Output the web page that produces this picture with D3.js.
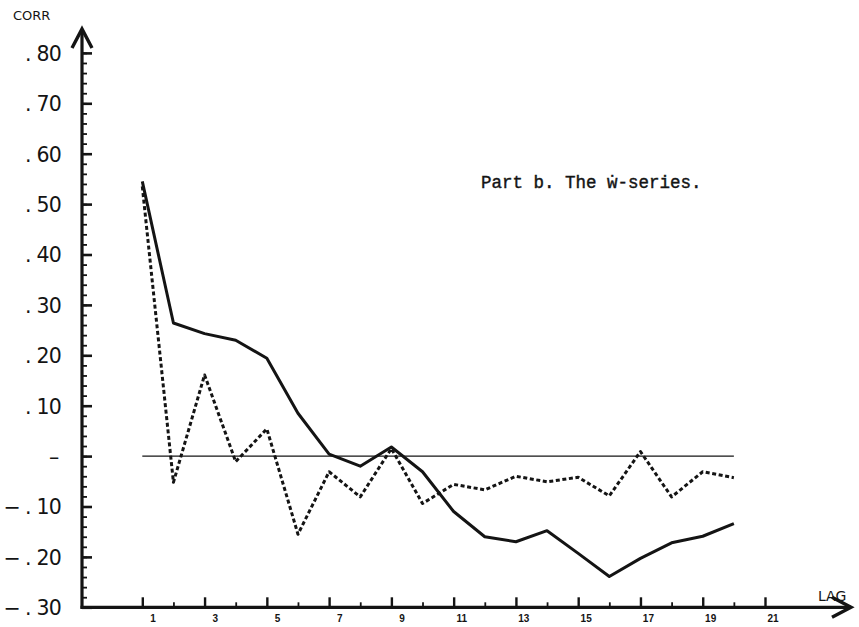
<!DOCTYPE html>
<html>
<head>
<meta charset="utf-8">
<script src="https://cdn.jsdelivr.net/npm/d3@7"></script>
<style>
  html, body { margin: 0; padding: 0; background: #fff; }
  svg { display: block; }
</style>
</head>
<body>
<svg id="chart" width="859" height="627"></svg>
<script>
// Autocorrelations by lag
const lags = [1, 2, 3, 4, 5, 6, 7, 8, 9, 10, 11, 12, 13, 14, 15, 16, 17, 18, 19, 20];
const acf = [0.545, 0.264, 0.243, 0.230, 0.194, 0.085, 0.004, -0.020, 0.018, -0.031,
             -0.110, -0.160, -0.170, -0.148, -0.193, -0.239, -0.203, -0.172, -0.159, -0.134];
const pacf = [0.535, -0.052, 0.161, -0.011, 0.054, -0.155, -0.031, -0.081, 0.015, -0.094,
              -0.056, -0.067, -0.040, -0.051, -0.042, -0.079, 0.009, -0.081, -0.031, -0.043];

// Axis ticks and labels
const yMajor = [0.80, 0.70, 0.60, 0.50, 0.40, 0.30, 0.20, 0.10, 0.00, -0.10, -0.20, -0.30];
const yLabels = [".80", ".70", ".60", ".50", ".40", ".30", ".20", ".10", "–", "−.10", "−.20", "−.30"];
const xMajor = [1, 3, 5, 7, 9, 11, 13, 15, 17, 19, 21];
const xMinor = [2, 4, 6, 8, 10, 12, 14, 16, 18, 20];
const title = "Part b. The ẇ-series.";

const svg = d3.select("#chart");
const ink = "#141414";

const x = d3.scaleLinear().domain([1, 21]).range([142.3, 765]);
const y = d3.scaleLinear().domain([-0.30, 0.80]).range([607.3, 52.9]);

const axisX0 = 82, axisY0 = y(-0.30);

// Y axis: spine with arrow, major and minor ticks on the right side
const yMinorVals = d3.range(-0.30, 0.801, 0.02).map(v => +v.toFixed(2));
svg.append("g").attr("transform", `translate(${axisX0},0)`)
  .call(d3.axisRight(y).tickValues(yMinorVals).tickSize(5).tickFormat(""))
  .call(g => g.select(".domain").remove())
  .call(g => g.selectAll("line").attr("stroke", ink).attr("stroke-width", 1.8));
svg.append("g").attr("transform", `translate(${axisX0},0)`)
  .call(d3.axisRight(y).tickValues(yMajor).tickSize(10).tickFormat(""))
  .call(g => g.select(".domain").remove())
  .call(g => g.selectAll("line").attr("stroke", ink).attr("stroke-width", 2.6));

// Y labels in fixed columns: sign, decimal point, digits
const labelG = svg.append("g").attr("transform", `translate(${axisX0},0)`)
  .call(d3.axisLeft(y).tickValues(yMajor).tickSize(0).tickFormat(""))
  .call(g => g.select(".domain").remove());
labelG.selectAll(".tick").each(function(d, i) {
  const lab = yLabels[i];
  const t = d3.select(this).append("text")
    .attr("fill", ink)
    .attr("font-family", "DejaVu Sans, sans-serif")
    .attr("font-size", 20.5)
    .attr("dy", "0.36em")
    .attr("text-anchor", "start");
  if (lab === "–") {
    t.append("tspan").attr("x", -33).text("–");
    return;
  }
  const neg = lab.startsWith("−");
  const body = neg ? lab.slice(1) : lab;
  if (neg) t.append("tspan").attr("x", -78.5).text("−");
  t.append("tspan").attr("x", -57).text(body[0]);
  t.append("tspan").attr("x", -45.5).attr("letter-spacing", -0.9).text(body.slice(1));
});

svg.append("line")
  .attr("x1", axisX0).attr("x2", axisX0)
  .attr("y1", axisY0 + 1.5).attr("y2", 29)
  .attr("stroke", ink).attr("stroke-width", 3.2);
svg.append("path")
  .attr("d", `M${axisX0 - 10},${48} L${axisX0},${29} L${axisX0 + 10},${48}`)
  .attr("fill", "none").attr("stroke", ink).attr("stroke-width", 3.4)
  .attr("stroke-linejoin", "miter");

// X axis: spine with arrow, odd lags labelled
const xg = svg.append("g").attr("transform", `translate(0,${axisY0})`)
  .call(d3.axisBottom(x).tickValues(xMajor).tickSize(-10).tickFormat(d3.format("d")))
  .call(g => g.select(".domain").remove())
  .call(g => g.selectAll("line").attr("stroke", ink).attr("stroke-width", 2.4));
xg.selectAll("text")
  .attr("fill", ink)
  .attr("font-family", "Liberation Sans, Arial, sans-serif")
  .attr("font-weight", "bold")
  .attr("font-size", 10)
  .attr("text-anchor", "end")
  .attr("x", 13)
  .attr("y", 8);
svg.append("g").attr("transform", `translate(0,${axisY0})`)
  .call(d3.axisBottom(x).tickValues(xMinor).tickSize(-5).tickFormat(""))
  .call(g => g.select(".domain").remove())
  .call(g => g.selectAll("line").attr("stroke", ink).attr("stroke-width", 1.8));

svg.append("line")
  .attr("x1", axisX0 - 1.5).attr("x2", 851)
  .attr("y1", axisY0).attr("y2", axisY0)
  .attr("stroke", ink).attr("stroke-width", 3.2);
svg.append("path")
  .attr("d", `M${832},${axisY0 - 10} L${851},${axisY0} L${832},${axisY0 + 10}`)
  .attr("fill", "none").attr("stroke", ink).attr("stroke-width", 3.4);

// Zero reference line across the plotted lags
svg.append("line")
  .attr("x1", x(lags[0])).attr("x2", x(lags[lags.length - 1]))
  .attr("y1", y(0)).attr("y2", y(0))
  .attr("stroke", ink).attr("stroke-width", 1.4);

// Series
const line = d3.line().x((d, i) => x(lags[i])).y(d => y(d));
svg.append("path")
  .datum(pacf)
  .attr("d", line)
  .attr("fill", "none")
  .attr("stroke", ink)
  .attr("stroke-width", 3)
  .attr("stroke-dasharray", "4,2.6")
  .attr("stroke-linejoin", "round");
svg.append("path")
  .datum(acf)
  .attr("d", line)
  .attr("fill", "none")
  .attr("stroke", ink)
  .attr("stroke-width", 3)
  .attr("stroke-linejoin", "round");

// Text
svg.append("text")
  .attr("x", 13).attr("y", 20)
  .attr("fill", ink)
  .attr("font-family", "DejaVu Sans, sans-serif")
  .attr("font-size", 13)
  .text("CORR");
svg.append("text")
  .attr("x", 818).attr("y", 601)
  .attr("fill", ink)
  .attr("font-family", "DejaVu Sans, sans-serif")
  .attr("font-size", 14)
  .text("LAG");
svg.append("text")
  .attr("x", 481).attr("y", 188)
  .attr("fill", ink)
  .attr("stroke", ink)
  .attr("stroke-width", 0.4)
  .attr("font-family", "Liberation Mono, DejaVu Sans Mono, monospace")
  .attr("font-size", 17.5)
  .text(title);
</script>
</body>
</html>
